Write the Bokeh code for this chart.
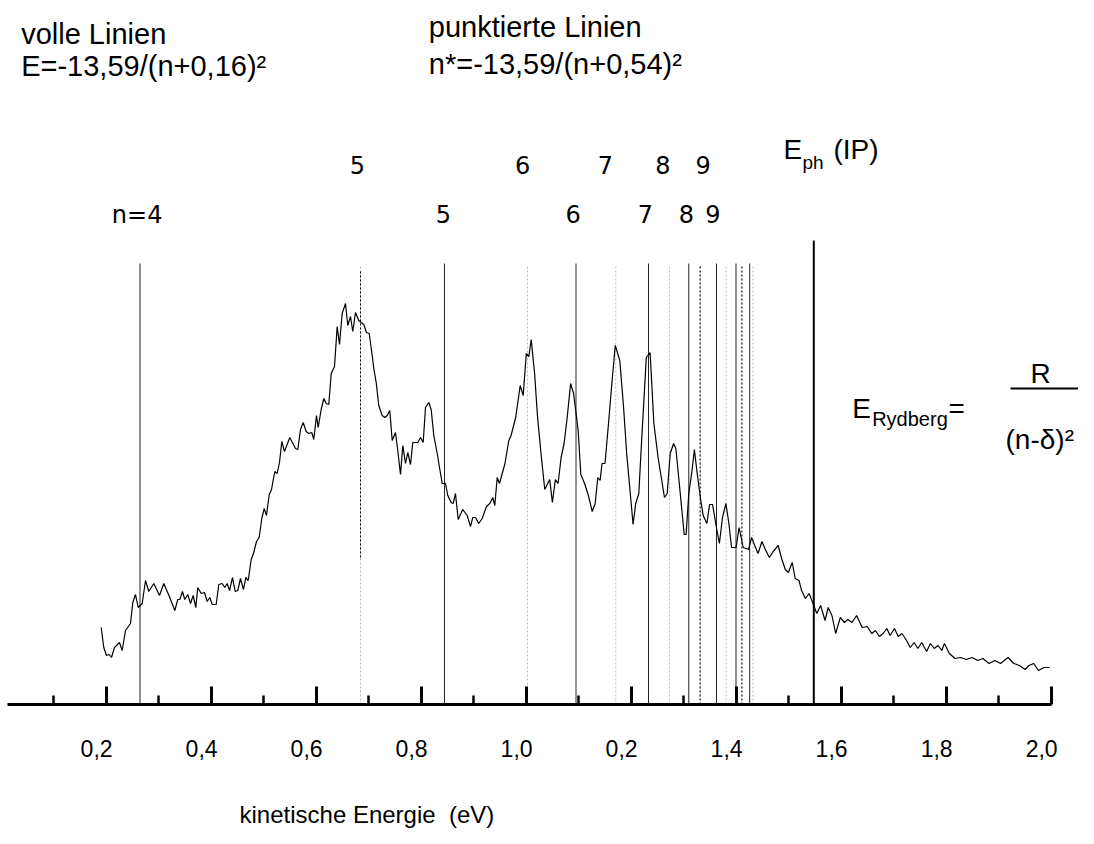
from bokeh.plotting import figure
from bokeh.models import Range1d, LinearAxis, FixedTicker, LabelSet, Title, ColumnDataSource
from bokeh.core.properties import value
from bokeh.embed import file_html
from bokeh.resources import INLINE

# ---- data: kinetic energy (eV) and intensity (arb. units) ----
energy = [
    0.1905, 0.1954, 0.2006, 0.2057, 0.2101, 0.2158, 0.2253, 0.2305, 0.2368, 0.2463,
    0.2507, 0.2558, 0.2610, 0.2686, 0.2749, 0.2811, 0.2907, 0.3015, 0.3097, 0.3211,
    0.3307, 0.3364, 0.3402, 0.3453, 0.3497, 0.3554, 0.3606, 0.3657, 0.3707, 0.3745,
    0.3810, 0.3872, 0.3924, 0.3973, 0.4019, 0.4095, 0.4145, 0.4210, 0.4259, 0.4305,
    0.4349, 0.4406, 0.4457, 0.4507, 0.4558, 0.4615, 0.4659, 0.4705, 0.4762, 0.4811,
    0.4863, 0.4914, 0.4964, 0.5010, 0.5053, 0.5105, 0.5149, 0.5211, 0.5257, 0.5301,
    0.5345, 0.5396, 0.5497, 0.5606, 0.5650, 0.5701, 0.5752, 0.5810, 0.5859, 0.5916,
    0.5954, 0.6006, 0.6038, 0.6095, 0.6145, 0.6190, 0.6240, 0.6286, 0.6349, 0.6400,
    0.6444, 0.6495, 0.6558, 0.6602, 0.6653, 0.6697, 0.6749, 0.6811, 0.6907, 0.6958,
    0.7010, 0.7067, 0.7097, 0.7143, 0.7192, 0.7257, 0.7307, 0.7352, 0.7402, 0.7448,
    0.7510, 0.7554, 0.7606, 0.7650, 0.7701, 0.7745, 0.7796, 0.7840, 0.7935, 0.7987,
    0.8038, 0.8082, 0.8145, 0.8190, 0.8240, 0.8305, 0.8400, 0.8463, 0.8507, 0.8571,
    0.8610, 0.8653, 0.8705, 0.8792, 0.8876, 0.8939, 0.8983, 0.9034, 0.9097, 0.9162,
    0.9244, 0.9307, 0.9364, 0.9402, 0.9448, 0.9491, 0.9596, 0.9669, 0.9712, 0.9800,
    0.9886, 0.9943, 1.0002, 1.0051, 1.0095, 1.0160, 1.0217, 1.0290, 1.0354, 1.0448,
    1.0499, 1.0556, 1.0608, 1.0665, 1.0722, 1.0781, 1.0846, 1.0903, 1.0990, 1.1040,
    1.1112, 1.1185, 1.1257, 1.1314, 1.1364, 1.1408, 1.1444, 1.1501, 1.1568, 1.1625,
    1.1697, 1.1783, 1.1855, 1.1914, 1.2036, 1.2086, 1.2145, 1.2202, 1.2288, 1.2360,
    1.2432, 1.2512, 1.2634, 1.2686, 1.2743, 1.2808, 1.2851, 1.2916, 1.3010, 1.3046,
    1.3097, 1.3154, 1.3204, 1.3250, 1.3320, 1.3371, 1.3442, 1.3493, 1.3550, 1.3623,
    1.3680, 1.3739, 1.3804, 1.3861, 1.3912, 1.3998, 1.4055, 1.4133, 1.4236, 1.4293,
    1.4345, 1.4417, 1.4490, 1.4547, 1.4632, 1.4705, 1.4800, 1.4865, 1.4935, 1.4994,
    1.5067, 1.5124, 1.5196, 1.5246, 1.5318, 1.5390, 1.5478, 1.5535, 1.5608, 1.5693,
    1.5752, 1.5823, 1.5895, 1.5983, 1.6061, 1.6126, 1.6206, 1.6293, 1.6400, 1.6495,
    1.6581, 1.6653, 1.6726, 1.6798, 1.6870, 1.6930, 1.7015, 1.7086, 1.7158, 1.7246,
    1.7316, 1.7389, 1.7461, 1.7533, 1.7627, 1.7699, 1.7771, 1.7844, 1.7916, 1.7966,
    1.8061, 1.8168, 1.8276, 1.8385, 1.8493, 1.8602, 1.8697, 1.8817, 1.8926, 1.9034,
    1.9179, 1.9288, 1.9396, 1.9503, 1.9575, 1.9669, 1.9756, 1.9865, 1.9971,
]
intensity = [
    77, 57, 49, 50, 47, 57, 62, 54, 74, 81,
    102, 110, 97, 101, 124, 113, 121, 109, 121, 107,
    94, 105, 105, 113, 105, 110, 101, 109, 97, 117,
    111, 112, 103, 107, 100, 100, 120, 121, 117, 121,
    114, 127, 113, 114, 126, 115, 127, 124, 145, 152,
    163, 167, 186, 196, 189, 210, 215, 233, 231, 242,
    263, 253, 267, 256, 255, 275, 282, 273, 271, 272,
    265, 289, 277, 295, 306, 301, 300, 331, 338, 378,
    360, 391, 401, 379, 388, 373, 392, 384, 380, 372,
    371, 349, 336, 322, 299, 289, 287, 289, 294, 264,
    272, 254, 230, 259, 241, 252, 240, 262, 262, 267,
    262, 297, 302, 295, 269, 251, 221, 221, 209, 202,
    201, 211, 185, 195, 189, 178, 187, 187, 181, 186,
    198, 201, 207, 199, 227, 221, 241, 264, 269, 287,
    319, 309, 351, 348, 365, 331, 287, 247, 215, 225,
    202, 225, 221, 247, 261, 287, 321, 311, 274, 230,
    221, 209, 193, 201, 227, 224, 241, 241, 281, 317,
    359, 344, 297, 251, 180, 201, 211, 267, 347, 352,
    281, 247, 207, 211, 251, 261, 256, 221, 170, 170,
    211, 232, 255, 234, 206, 189, 181, 200, 200, 177,
    161, 187, 201, 181, 157, 157, 177, 157, 155, 167,
    160, 151, 163, 156, 147, 153, 159, 146, 135, 132,
    142, 126, 124, 114, 106, 111, 99, 91, 99, 84,
    97, 89, 71, 87, 82, 85, 82, 89, 77, 78,
    71, 74, 68, 71, 76, 69, 76, 68, 71, 64,
    57, 62, 56, 62, 53, 61, 56, 59, 54, 61,
    51, 46, 47, 45, 47, 44, 46, 41, 44, 41,
    47, 41, 39, 35, 39, 41, 34, 37, 37,
]

# Rydberg series line positions (eV)
solid_lines = [0.2644, 0.8444, 1.0949, 1.2330, 1.3097, 1.3625, 1.3996, 1.4257]
dotted_lines = [0.6844, 1.0025, 1.1707, 1.2730, 1.3314, 1.3806, 1.4109, 1.4320]
dark_dotted_lines = [1.3314, 1.4109]
ip_energy = 1.5478

upper_labels = ["5", "6", "7", "8", "9"]
upper_x = [0.6787, 0.9930, 1.1510, 1.2602, 1.3371]
lower_labels = ["n=4", "5", "6", "7", "8", "9"]
lower_x = [0.2590, 0.8425, 1.0895, 1.2272, 1.3053, 1.3554]

tick_values = [0.2, 0.4, 0.6, 0.8, 1.0, 1.2, 1.4, 1.6, 1.8, 2.0]
tick_labels = ["0,2", "0,4", "0,6", "0,8", "1,0", "0,2", "1,4", "1,6", "1,8", "2,0"]
minor_values = [0.1, 0.3, 0.5, 0.7, 0.9, 1.1, 1.3, 1.5, 1.7, 1.9]

x_title = "kinetische Energie\u00a0 (eV)"

# ---- figure ----
X0, X1 = -0.0013, 2.0520
p = figure(width=1078, height=828, output_backend="svg", toolbar_location=None,
           x_range=Range1d(X0, X1), y_range=Range1d(0, 704),
           x_axis_type=None, y_axis_type=None,
           min_border_left=0, min_border_right=0, min_border_top=0, min_border_bottom=124)
p.outline_line_color = None
p.background_fill_color = "white"
p.border_fill_color = "white"

SANS = "Liberation Sans"

xaxis = LinearAxis(ticker=FixedTicker(ticks=tick_values, minor_ticks=minor_values),
                   bounds=(0.012, 2.0))
xaxis.major_label_overrides = {v: l + "\u00a0\u00a0\u00a0" for v, l in zip(tick_values, tick_labels)}
xaxis.axis_line_width = 3
xaxis.axis_line_color = "black"
xaxis.major_tick_in = 18
xaxis.major_tick_out = 0
xaxis.major_tick_line_width = 3
xaxis.minor_tick_in = 9
xaxis.minor_tick_out = 0
xaxis.minor_tick_line_width = 2.5
xaxis.major_label_standoff = 31
xaxis.major_label_text_font = SANS
xaxis.major_label_text_font_size = "23px"
xaxis.major_label_text_color = "black"
p.add_layout(xaxis, "below")

# blank spacer panel, then the axis title (left-shifted as in the original)
p.add_layout(Title(text="\u00a0", standoff=30, text_font_size="2px"), "below")
p.add_layout(Title(text=x_title, align="left", offset=239, standoff=0,
                   text_font=SANS, text_font_size="24px", text_font_style="normal",
                   text_color="black"), "below")

# vertical series lines
p.segment(x0=dotted_lines, y0=0, x1=dotted_lines, y1=438,
          line_color="#b8b8b8", line_width=1, line_dash="2 2")
p.segment(x0=dark_dotted_lines, y0=0, x1=dark_dotted_lines, y1=438,
          line_color="black", line_width=1, line_dash="2 2")
p.segment(x0=[dotted_lines[0]], y0=147, x1=[dotted_lines[0]], y1=434,
          line_color="black", line_width=1, line_dash="2 2")
p.segment(x0=solid_lines, y0=0, x1=solid_lines, y1=441,
          line_color="#222222", line_width=1)
p.segment(x0=[ip_energy], y0=0, x1=[ip_energy], y1=464,
          line_color="black", line_width=2)

# spectrum
p.line(energy, intensity, line_color="black", line_width=1.2)

# series labels
up_src = ColumnDataSource(dict(x=upper_x, y=[531] * len(upper_x), t=upper_labels))
lo_src = ColumnDataSource(dict(x=lower_x, y=[482] * len(lower_x), t=lower_labels))
for src in (up_src, lo_src):
    p.add_layout(LabelSet(x="x", y="y", text="t", source=src,
                          text_font=value("DejaVu Sans"), text_font_size=value("24px"),
                          text_align="center", text_baseline="alphabetic",
                          text_color="black"))

def lab(x, y, text, size, font=SANS):
    src = ColumnDataSource(dict(x=[x], y=[y], t=[text]))
    p.add_layout(LabelSet(x="x", y="y", text="t", source=src,
                          text_font=value(font), text_font_size=value(size),
                          text_align="left", text_baseline="alphabetic",
                          text_color="black"))

lab(0.0381, 661, "volle Linien", "29px")
lab(0.0381, 629, "E=-13,59/(n+0,16)²", "29px")
lab(0.8145, 668, "punktierte Linien", "29px")
lab(0.8145, 631, "n*=-13,59/(n+0,54)²", "29px")

lab(1.4901, 546, "E", "28px")
lab(1.5263, 536, "ph", "19px")
lab(1.5853, 546, "(IP)", "28px")

lab(1.6210, 287, "E", "28px")
lab(1.6590, 279, "Rydberg", "20px")
lab(1.8044, 287, "=", "28px")
lab(1.9606, 322, "R", "28px")
lab(1.9130, 256, "(n-δ)²", "28px")
p.segment(x0=[1.9225], y0=316, x1=[2.08], y1=316, line_color="black", line_width=2)

open("out.html", "w").write(file_html(p, INLINE))
